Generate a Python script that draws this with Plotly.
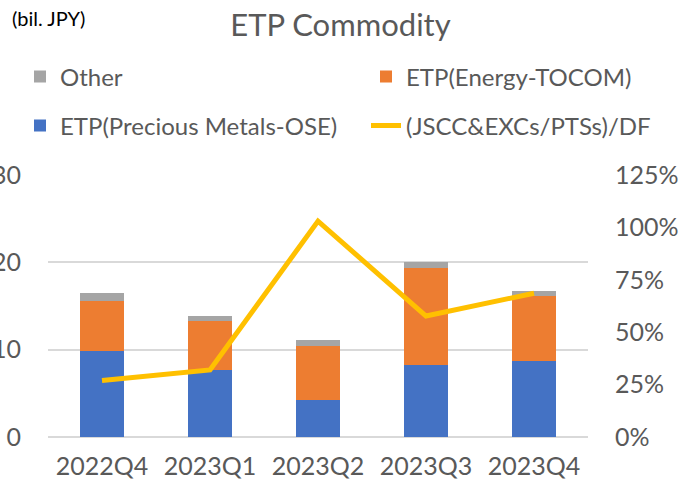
import plotly.graph_objects as go

quarters = ["2022Q4", "2023Q1", "2023Q2", "2023Q3", "2023Q4"]
precious_metals = [9.8, 7.7, 4.2, 8.3, 8.7]
energy = [5.8, 5.6, 6.2, 11.0, 7.4]
other = [0.9, 0.6, 0.7, 0.7, 0.6]
ratio = [0.27, 0.32, 1.03, 0.577, 0.686]

FONT = "Lato"
GREY_TXT = "#595959"

fig = go.Figure()
fig.add_trace(go.Bar(x=quarters, y=precious_metals, name="ETP(Precious Metals-OSE)",
                     marker=dict(color="#4472C4", line_width=0), legend="legend3"))
fig.add_trace(go.Bar(x=quarters, y=energy, name="ETP(Energy-TOCOM)",
                     marker=dict(color="#ED7D31", line_width=0), legend="legend2"))
fig.add_trace(go.Bar(x=quarters, y=other, name="Other",
                     marker=dict(color="#A5A5A5", line_width=0), legend="legend"))
fig.add_trace(go.Scatter(x=quarters, y=ratio, name="(JSCC&EXCs/PTSs)/DF", yaxis="y2",
                         mode="lines", line=dict(color="#FFC000", width=5),
                         legend="legend4"))

# one legend per entry, laid out as the 2x2 grid in the reference
legend_style = dict(orientation="h", xref="container", yref="container",
                    xanchor="left", yanchor="middle",
                    font=dict(family=FONT, size=24, color=GREY_TXT),
                    bgcolor="rgba(0,0,0,0)", itemwidth=30)
col1, col2 = 20 / 681, 366 / 681
row1, row2 = 1 - 77 / 492, 1 - 126 / 492

fig.update_layout(
    width=681, height=492,
    margin=dict(l=48, r=93, t=175, b=55, autoexpand=False),
    plot_bgcolor="white", paper_bgcolor="white",
    barmode="stack", bargap=0.6, showlegend=True,
    font=dict(family=FONT, color=GREY_TXT),
    title=dict(text="ETP Commodity", x=0.5, xref="container", y=1 - 25 / 492,
               yref="container", yanchor="middle",
               font=dict(family=FONT, size=31, color=GREY_TXT)),
    legend=dict(legend_style, x=col1, y=row1),
    legend2=dict(legend_style, x=col2, y=row1),
    legend3=dict(legend_style, x=col1, y=row2),
    legend4=dict(legend_style, x=col2, y=row2),
    xaxis=dict(showline=False, ticks="", ticklabelstandoff=12,
               tickfont=dict(family=FONT, size=25, color=GREY_TXT)),
    yaxis=dict(range=[0, 30], dtick=10, showgrid=True, gridcolor="#D9D9D9", gridwidth=1.5,
               zeroline=True, zerolinecolor="#D9D9D9", zerolinewidth=1.5,
               automargin=False, ticklabelstandoff=26,
               tickfont=dict(family=FONT, size=25, color=GREY_TXT)),
    yaxis2=dict(range=[0, 1.25], dtick=0.25, tickformat=".0%", overlaying="y", side="right",
                showgrid=False, zeroline=False, automargin=False, ticklabelstandoff=26,
                tickfont=dict(family=FONT, size=25, color=GREY_TXT)),
    annotations=[dict(text="(bil. JPY)", xref="paper", yref="paper", x=-38 / 540,
                      y=(437 - 18) / 262, xanchor="left", yanchor="middle", showarrow=False,
                      font=dict(family=FONT, size=20, color="black"))],
)

fig.write_html("out.html", config={"displayModeBar": False},
               post_script="document.body.style.margin = '0';")
